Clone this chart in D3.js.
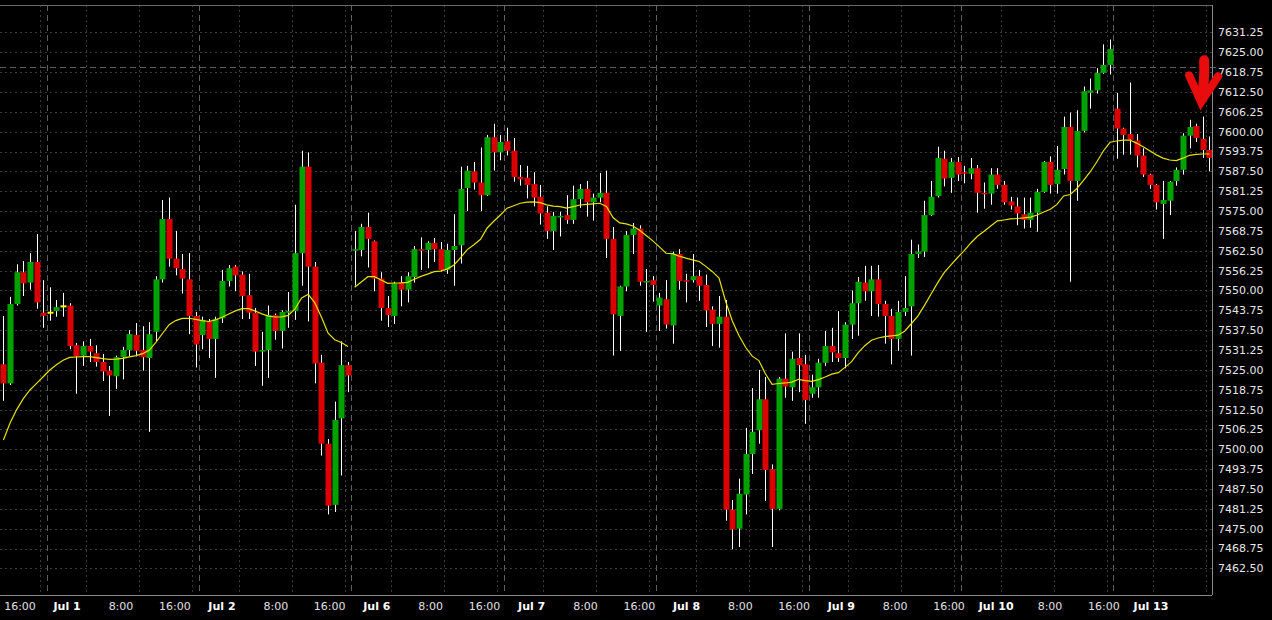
<!DOCTYPE html>
<html><head><meta charset="utf-8">
<script src="https://cdn.jsdelivr.net/npm/d3@7"></script>
<style>html,body{margin:0;padding:0;background:#000;overflow:hidden}svg{display:block}</style>
</head><body>
<svg id="chart" width="1272" height="620"></svg>
<script>
// ---------- DATA (hourly candles, index 0 = Jun 30 16:00) ----------
const opens = [7526.75,7520.75,7545.75,7555.75,7552.5,7559,7543,7543,7543.5,7545,7545.25,7532.75,7529.5,7532.5,7530.25,7527.5,7524.75,7523,7529,7531.25,7536,7531.25,7528.75,7537,7553.5,7572.5,7560,7556.75,7553.5,7542,7536,7540.25,7534.75,7541.25,7553,7557.5,7555,7548.5,7543,7530.75,7531.25,7542.25,7537.25,7543,7543.5,7561.75,7589,7557.5,7527.25,7501.75,7482.5,7509.75,7526.5,
7562.5,7562.75,7570,7565.5,7553.75,7544.5,7542,7552.5,7550.25,7554.25,7563,7562.75,7565,7563,7556.5,7562.75,7564.25,7582.25,7587.5,7584,7580,7598.25,7593.5,7597,7594,7585.75,7585.5,7583.5,7579.5,7574.5,7568.75,7573,7573.75,7572.25,7578.75,7582,7577.75,7579.25,7580.75,7566.25,7542,7551.25,7567.5,7569.5,7552.5,7553.25,
7545.25,7547.25,7539,7561.5,7553.25,7553.25,7554.5,7551.75,7544,7539.5,7541.75,7481,7475,7485.75,7498.5,7506,7515.75,7493.75,7481.25,7522.25,7519.5,7528.75,7526.75,7517.5,7519.5,7527.25,7532.5,7530.25,7528.75,7539.25,7546,7552.5,7549.75,7553.5,7545.75,7542,7534.75,7543.25,7545,7561.5,7562.25,7573.75,7579.75,7591.5,7585.5,7590.5,
7587.25,7586.75,7588.5,7580.75,7580.5,7586.5,7583.25,7578,7576.5,7574,7572.25,7574.5,7581,7590.5,7583.5,7588.25,7601.5,7584.5,7600.25,7612.25,7613,7618.5,7621,7607.25,7601,7599.25,7597.25,7592.5,7586.5,7583.25,7577.25,7578.25,7584.5,7588,7598.75,7601.75,7597.75,7594.25];
const highs = [7542,7548,7558.25,7559.25,7561.75,7567.75,7553.25,7551,7547,7549.25,7546,7533.5,7534,7534.75,7532.75,7530,7526.25,7529.5,7532.25,7537.5,7539.75,7538.75,7540,7554.5,7578.5,7579.25,7568.75,7561.5,7561.75,7543.25,7541.75,7541,7541.75,7556.5,7558,7558,7556,7555.25,7544.5,7537,7545.25,7542.75,7543.75,7549.5,7577,7594,7593.5,7559,7529.75,7503.25,7515,7534,7527.5,
7568.75,7571,7574.5,7565.75,7555.75,7548.25,7552.75,7554.5,7555.75,7564,7566.75,7565.5,7566.5,7565.25,7564.75,7574,7589,7589.25,7590.5,7595,7599,7602.5,7599,7601.25,7598,7589.5,7589.25,7587.25,7583.25,7576.5,7574.75,7574.75,7580,7583,7583.5,7584.5,7580.5,7587,7587.75,7570,7551.5,7568.75,7571.25,7570.5,7556.75,7554.5,
7549.25,7553.25,7562.25,7563,7555.25,7561.5,7556.5,7555,7545,7548.25,7547,7484,7490.75,7506.75,7519.25,7525,7522.75,7495.25,7522.75,7536.5,7530.75,7536.5,7529.75,7523.5,7528.5,7537.25,7538.25,7543.5,7540,7550,7554.25,7557.75,7557.75,7558,7546.75,7544.25,7546.75,7554.5,7566,7564.5,7578.25,7584.5,7595.25,7594,7591.75,7592,
7589.25,7591.75,7589.5,7584,7588.5,7588.5,7584.5,7579.5,7579.25,7579.25,7579.25,7582,7590.75,7592.25,7595.5,7604.75,7606,7606.75,7614.25,7616.75,7620,7627.5,7629,7612.25,7601.25,7615.5,7599.25,7594.75,7586.75,7583.5,7584.5,7584.5,7588.75,7599.5,7603.75,7602.5,7604.75,7598.5];
const lows = [7515.25,7520.25,7545.25,7548.25,7550.25,7544.25,7538.25,7540.5,7541.75,7541.75,7531.5,7517.5,7526.25,7527.5,7526,7521.5,7510.5,7519,7522,7529.25,7529.25,7524.75,7505.5,7533.75,7552.5,7557.5,7554.75,7549,7536.25,7525.75,7531.5,7528.75,7522.5,7539.75,7551.25,7549.75,7541,7541,7526.25,7520,7522.5,7534.5,7531.75,7538.25,7540.75,7551.5,7540.25,7520.75,7498,7479.5,7480.25,7491.75,7518,
7551.5,7560.75,7557.25,7549.75,7540.5,7538.5,7539.5,7545,7546.25,7552.5,7556.5,7557,7559,7556,7555.25,7551.5,7558.5,7575,7581.75,7575,7579.75,7587.75,7591,7592.5,7584.25,7583,7579,7576.5,7570.75,7566.25,7562.75,7567,7571,7571,7576,7573.25,7572,7577.75,7560.25,7529.5,7531,7549.75,7561.5,7551.5,7537,7546.5,
7537.25,7538,7533.25,7550.25,7546.25,7552.5,7546.75,7538.5,7532.5,7532,7477.5,7468.5,7469.25,7479.5,7492.25,7501.75,7483.75,7469.25,7480.75,7516.25,7515.25,7518,7508,7516.25,7516.25,7526.25,7527.5,7527.5,7525.5,7534.75,7535.75,7546.75,7542,7541.75,7533.25,7526.75,7531,7542,7529.5,7560.25,7560.5,7573.5,7579.25,7582.75,7580.75,7584.5,
7583.75,7585,7574.5,7575.75,7577,7582,7577,7575.5,7570.5,7569.5,7569.75,7568.5,7580.75,7580.5,7580.5,7586.5,7552.75,7578.25,7599.75,7607.25,7612,7618.25,7618,7591.5,7592.75,7592.75,7588.75,7585.75,7582,7575.5,7566.25,7573.75,7583,7586.5,7594.75,7596.75,7591.75,7587.5];
const closes = [7520.75,7545.75,7555.75,7552.25,7559,7546.25,7542,7543,7544.75,7545,7532.5,7529.25,7532.5,7530.75,7527.5,7524.5,7523.25,7529,7531.25,7536.25,7531,7529,7536.25,7553.5,7572.5,7560,7557,7553.75,7542,7533,7540.75,7534.75,7541,7553,7557,7554.75,7548.25,7543,7530.75,7531.25,7542.25,7537.25,7543.25,7543.5,7561.75,7589,7557.5,7527,7501.75,7482.25,7509.25,7526.5,7523.25,
7563,7570,7566.25,7553.75,7544.5,7542.25,7552.25,7550.25,7554.5,7563,7562.5,7565,7563,7556.5,7562.75,7564,7582,7587.75,7584,7580,7598.25,7593.5,7596.75,7594,7585.75,7585,7583.25,7579.25,7574.25,7568.75,7573.5,7573.5,7572.25,7578.75,7582,7577.75,7579.25,7580.75,7566.25,7542.5,7551.25,7567.5,7569.5,7552.75,7553,7551.75,
7547.75,7539.25,7561.5,7553,7552.75,7554.5,7551.5,7543.75,7539.5,7541.75,7481,7474.75,7486,7498.5,7505.5,7515.75,7493.5,7481.25,7522.25,7519.75,7528.5,7526.5,7515.5,7519.5,7527.25,7532.5,7530.5,7528.75,7539.25,7546,7552.75,7549.75,7553.5,7545.75,7542,7534.75,7543.25,7544.5,7561.5,7562.25,7573.75,7579.5,7591.75,7585.25,7590.5,7586.5,
7586.75,7588.5,7580.75,7580.25,7586.5,7583.25,7577.75,7576.75,7574.25,7572.25,7574.5,7581,7590.5,7583.25,7588,7601.5,7584.5,7600.25,7612.75,7613,7618.5,7621,7626,7601,7599,7597.5,7592.5,7586.5,7583.25,7577.75,7578.5,7584.25,7588,7598.75,7601.5,7598,7594.25,7591.75];
// moving average as drawn (one value per candle); a new segment starts at each index in maSegmentStarts
const maValues = [7502.93,7508.28,7512.5,7515.94,7518.67,7520.75,7522.83,7524.97,7526.64,7528.03,7528.94,7529.06,7529.16,7529.16,7528.84,7528.56,7528.34,7528.4,7528.62,7529.1,7529.47,7530.1,7531.14,7533.69,7536.46,7539.24,7540.53,7541.19,7541.25,7540.9,7540.53,7540.24,7540.75,7541.57,7542.6,7543.58,7544.27,7544.27,7543.52,7542.64,7541.91,7541.66,7541.69,7542.16,7544.18,7547.64,7548.81,7546.1,7541.6,7536.53,7534.51,7533.63,7532.37,
7551.01,7552.65,7554.35,7554.35,7553.31,7552.27,7552.36,7552.4,7552.55,7553.53,7554.44,7555.14,7555.92,7556.08,7556.8,7558.03,7560.33,7562.88,7564.42,7566.12,7569.68,7571.79,7573.78,7575.92,7576.7,7577.46,7577.81,7577.87,7577.65,7576.96,7576.55,7576.39,7575.92,7576.39,7576.92,7577.11,7577.3,7577.46,7576.45,7572.96,7571.26,7570.97,7570.31,7568.99,7567.32,7565.62,
7563.73,7561.72,7561.59,7560.8,7560.17,7559.64,7559.13,7557.59,7555.92,7553.94,7546.54,7540.4,7535.8,7532.12,7529.32,7527.93,7523.78,7520.47,7520.72,7520.88,7521.16,7522.04,7521.63,7521.41,7521.95,7522.77,7523.65,7524.12,7525.79,7527.59,7530.42,7532.62,7534.32,7535.05,7535.46,7535.71,7535.93,7537.19,7539.52,7541.91,7545.31,7548.9,7552.49,7555.67,7558.06,7560.39,
7562.53,7564.96,7567.07,7568.64,7570.31,7571.92,7572.2,7572.52,7572.67,7572.86,7573.11,7573.78,7574.72,7575.6,7577.11,7579.76,7580.23,7582.12,7584.64,7587.31,7590.46,7593.93,7596.67,7597.07,7597.33,7597.39,7596.41,7595.28,7594.02,7592.7,7591.69,7591.09,7590.87,7591.66,7592.57,7592.86,7592.98,7592.98];
const maSegmentStarts = [0, 53];

// price axis tick labels
const yTicks = [7462.50,7468.75,7475.00,7481.25,7487.50,7493.75,7500.00,7506.25,7512.50,7518.75,7525.00,7531.25,7537.50,7543.75,7550.00,7556.25,7562.50,7568.75,7575.00,7581.25,7587.50,7593.75,7600.00,7606.25,7612.50,7618.75,7625.00,7631.25];
// time axis labels (candle index they refer to)
const xLabelText = ["16:00","Jul 1","8:00","16:00","Jul 2","8:00","16:00","Jul 6","8:00","16:00","Jul 7","8:00","16:00","Jul 8","8:00","16:00","Jul 9","8:00","16:00","Jul 10","8:00","16:00","Jul 13"];
const xLabelIdx  = [0,7,15,23,30,38,46,53,61,69,76,84,92,99,107,115,122,130,138,145,153,161,168];
// first candle index of each trading day
const dayStartIdx = [7,30,53,76,99,122,145,168];
const crossValue = 7620.25;   // horizontal dashed marker line
const arrowAt = {idx: 180.75, price: 7608}; // red annotation arrow tip

// ---------- LAYOUT ----------
const W = 1272, H = 620;
const plot = {left: 0, right: 1212, top: 5, bottom: 595};
const svg = d3.select("#chart");
svg.append("rect").attr("width", W).attr("height", H).attr("fill", "#000");

const x = d3.scaleLinear().domain([0, 182]).range([3.43, 1209.4]);
const xLab = d3.scaleLinear().domain([0, 168]).range([20, 1151]);
const y = d3.scaleLinear().domain([7454.12, 7639.89]).range([plot.bottom, plot.top]);

const g = svg.append("g");

// horizontal grid
g.selectAll("line.hg").data(yTicks).join("line")
  .attr("x1", plot.left).attr("x2", plot.right)
  .attr("y1", d => Math.round(y(d)) + 0.5).attr("y2", d => Math.round(y(d)) + 0.5)
  .attr("stroke", "#3a3a3a").attr("stroke-width", 1).attr("stroke-dasharray", "2,3");

// fine vertical grid: 1 candle before each day start, 6 and 14 candles after
const fineIdx = [];
dayStartIdx.forEach(d => { [-1, 6, 14].forEach(o => { const v = d + o - 0.5; if (v > 0 && v < 182) fineIdx.push(v); }); });
g.selectAll("line.vg").data(fineIdx).join("line")
  .attr("x1", d => Math.round(x(d)) + 0.5).attr("x2", d => Math.round(x(d)) + 0.5)
  .attr("y1", plot.top).attr("y2", plot.bottom)
  .attr("stroke", "#3a3a3a").attr("stroke-width", 1).attr("stroke-dasharray", "2,3");

// day separators
g.selectAll("line.day").data(dayStartIdx).join("line")
  .attr("x1", d => Math.round(x(d - 0.5)) + 0.5).attr("x2", d => Math.round(x(d - 0.5)) + 0.5)
  .attr("y1", plot.top).attr("y2", plot.bottom)
  .attr("stroke", "#5e5e5e").attr("stroke-width", 1).attr("stroke-dasharray", "6,4");

// horizontal dashed marker
g.append("line")
  .attr("x1", plot.left).attr("x2", plot.right + 6)
  .attr("y1", Math.round(y(crossValue)) + 0.5).attr("y2", Math.round(y(crossValue)) + 0.5)
  .attr("stroke", "#5e5e5e").attr("stroke-width", 1).attr("stroke-dasharray", "6,4");

// candles
const candles = opens.map((o, i) => ({i, o, h: highs[i], l: lows[i], c: closes[i]}));
const bodyW = 6;
const cg = g.append("g");
cg.selectAll("line.wick").data(candles).join("line")
  .attr("x1", d => Math.round(x(d.i)) + 0.5).attr("x2", d => Math.round(x(d.i)) + 0.5)
  .attr("y1", d => y(d.h)).attr("y2", d => y(d.l))
  .attr("stroke", "#ffffff").attr("stroke-width", 1);
cg.selectAll("rect.body").data(candles).join("rect")
  .attr("x", d => Math.round(x(d.i)) - bodyW / 2 + 0.5)
  .attr("width", bodyW)
  .attr("y", d => d.o === d.c ? y(d.o) - 1 : y(Math.max(d.o, d.c)))
  .attr("height", d => d.o === d.c ? 2 : Math.max(1.5, Math.abs(y(d.o) - y(d.c))))
  .attr("fill", d => d.c > d.o ? "#00a200" : (d.c < d.o ? "#dd0000" : "#ffff00"));

// moving average
const line = d3.line().x(d => x(d.i)).y(d => y(d.v));
maSegmentStarts.forEach((s, k) => {
  const e = k + 1 < maSegmentStarts.length ? maSegmentStarts[k + 1] : maValues.length;
  const seg = maValues.slice(s, e).map((v, j) => ({i: s + j, v}));
  g.append("path").datum(seg).attr("d", line)
    .attr("fill", "none").attr("stroke", "#e6e200").attr("stroke-width", 1.2);
});

// frame
svg.append("line").attr("x1", 0).attr("x2", plot.right).attr("y1", plot.top + 0.5).attr("y2", plot.top + 0.5).attr("stroke", "#6a6a6a");
svg.append("line").attr("x1", 0).attr("x2", plot.right).attr("y1", plot.bottom + 0.5).attr("y2", plot.bottom + 0.5).attr("stroke", "#8a8a8a");
svg.append("line").attr("x1", plot.right + 0.5).attr("x2", plot.right + 0.5).attr("y1", plot.top).attr("y2", plot.bottom).attr("stroke", "#8a8a8a");

// y labels
svg.selectAll("text.yl").data(yTicks).join("text")
  .attr("x", 1218).attr("y", d => y(d))
  .attr("dy", "0.36em")
  .attr("font-family", "DejaVu Sans, Verdana, sans-serif").attr("font-size", 11)
  .attr("fill", "#e6e6e6")
  .text(d => d.toFixed(2));

// x labels
svg.selectAll("text.xl").data(xLabelText).join("text")
  .attr("x", (d, k) => xLab(xLabelIdx[k])).attr("y", 610)
  .attr("text-anchor", "middle")
  .attr("font-family", "DejaVu Sans, Verdana, sans-serif").attr("font-size", 11)
  .attr("font-weight", d => d.startsWith("Jul") ? "bold" : "normal")
  .attr("fill", d => d.startsWith("Jul") ? "#ffffff" : "#e0e0e0")
  .text(d => d);

// red annotation arrow
const ax = x(arrowAt.idx), ay = y(arrowAt.price);
const ag = svg.append("g").attr("fill", "none").attr("stroke", "#e80c0c");
ag.append("path").attr("d", `M${ax + 3},${ay - 46} Q${ax + 4},${ay - 25} ${ax},${ay - 8}`)
  .attr("stroke-width", 10).attr("stroke-linecap", "round");
ag.append("path").attr("d", `M${ax - 12},${ay - 31} L${ax},${ay - 4} L${ax + 17},${ay - 30}`)
  .attr("stroke-width", 8).attr("stroke-linecap", "round").attr("stroke-linejoin", "miter").attr("stroke-miterlimit", 10);
</script>
</body></html>
